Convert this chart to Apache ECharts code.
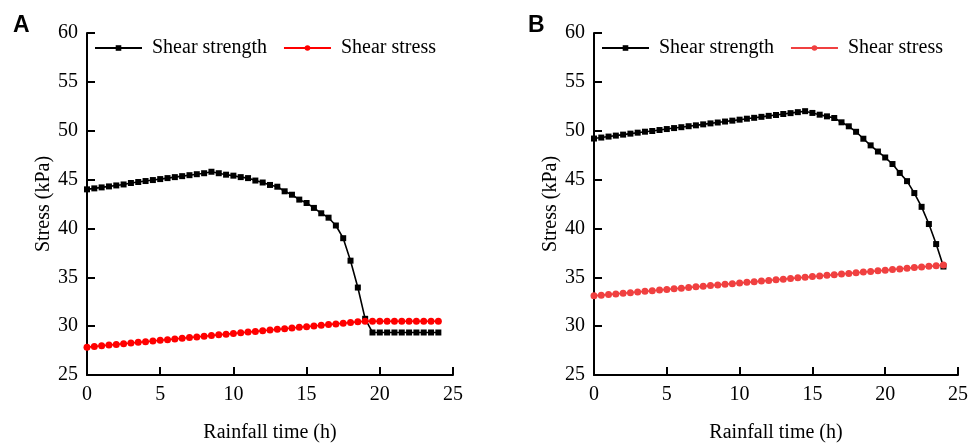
<!DOCTYPE html>
<html>
<head>
<meta charset="utf-8">
<script src="https://cdn.jsdelivr.net/npm/echarts@6/dist/echarts.min.js"></script>
<style>
  html, body { margin: 0; padding: 0; background: #fff; }
  #chart { width: 971px; height: 448px; }
</style>
</head>
<body>
<div id="chart"></div>
<script>
// rainfall time (h), 0.5 h steps
var hours = [0, 0.5, 1, 1.5, 2, 2.5, 3, 3.5, 4, 4.5, 5, 5.5, 6, 6.5, 7, 7.5, 8, 8.5, 9, 9.5,
  10, 10.5, 11, 11.5, 12, 12.5, 13, 13.5, 14, 14.5, 15, 15.5, 16, 16.5, 17, 17.5, 18, 18.5, 19, 19.5,
  20, 20.5, 21, 21.5, 22, 22.5, 23, 23.5, 24];

// panel A
var strengthA = [44.0, 44.1, 44.2, 44.3, 44.4, 44.5, 44.65, 44.75, 44.85, 44.95,
  45.05, 45.15, 45.25, 45.35, 45.45, 45.55, 45.65, 45.8, 45.65, 45.5,
  45.4, 45.25, 45.15, 44.9, 44.7, 44.45, 44.27, 43.8, 43.45, 42.95,
  42.6, 42.1, 41.55, 41.1, 40.3, 39.0, 36.7, 33.95, 30.75, 29.35,
  29.35, 29.35, 29.35, 29.35, 29.35, 29.35, 29.35, 29.35, 29.35];
var stressA = [27.85, 27.92, 27.99, 28.06, 28.13, 28.2, 28.27, 28.34, 28.41, 28.48,
  28.55, 28.62, 28.69, 28.76, 28.83, 28.9, 28.97, 29.04, 29.11, 29.18,
  29.25, 29.32, 29.39, 29.46, 29.53, 29.6, 29.67, 29.74, 29.81, 29.88,
  29.95, 30.02, 30.09, 30.16, 30.23, 30.3, 30.37, 30.44, 30.5, 30.5,
  30.5, 30.5, 30.5, 30.5, 30.5, 30.5, 30.5, 30.5, 30.5];

// panel B
var strengthB = [49.2, 49.3, 49.4, 49.5, 49.6, 49.7, 49.8, 49.9, 49.97, 50.07,
  50.17, 50.27, 50.36, 50.46, 50.55, 50.65, 50.75, 50.84, 50.94, 51.03,
  51.13, 51.23, 51.32, 51.42, 51.52, 51.61, 51.71, 51.8, 51.9, 52.0,
  51.82, 51.64, 51.47, 51.3, 50.86, 50.45, 49.89, 49.18, 48.5, 47.87,
  47.26, 46.59, 45.68, 44.84, 43.62, 42.21, 40.45, 38.4, 36.1];
var stressB = [33.1, 33.17, 33.23, 33.3, 33.36, 33.43, 33.49, 33.56, 33.62, 33.69,
  33.76, 33.82, 33.89, 33.95, 34.02, 34.08, 34.15, 34.22, 34.28, 34.35,
  34.41, 34.48, 34.54, 34.61, 34.67, 34.74, 34.81, 34.87, 34.94, 35.0,
  35.07, 35.13, 35.2, 35.26, 35.33, 35.4, 35.46, 35.53, 35.59, 35.66,
  35.72, 35.79, 35.86, 35.92, 35.99, 36.05, 36.12, 36.18, 36.25];

var xTicks = [0, 5, 10, 15, 20, 25];
var yTicks = [25, 30, 35, 40, 45, 50, 55, 60];

var serif = '"Liberation Serif", "Times New Roman", serif';

function pairs(vals) {
  return hours.map(function (h, i) { return [h, vals[i]]; });
}

function xAxis(idx) {
  return {
    type: 'value', gridIndex: idx,
    min: xTicks[0], max: xTicks[xTicks.length - 1], interval: 5,
    name: 'Rainfall time (h)', nameLocation: 'middle', nameGap: 48,
    nameTextStyle: { fontFamily: serif, fontSize: 20, color: '#000' },
    axisLine: { lineStyle: { color: '#000', width: 2 } },
    axisTick: { inside: true, length: 8, lineStyle: { color: '#000', width: 2 } },
    axisLabel: { fontFamily: serif, fontSize: 20, color: '#000', margin: 10 },
    splitLine: { show: false }
  };
}

function yAxis(idx) {
  return {
    type: 'value', gridIndex: idx,
    min: yTicks[0], max: yTicks[yTicks.length - 1], interval: 5,
    name: 'Stress (kPa)', nameLocation: 'middle', nameGap: 31,
    nameTextStyle: { fontFamily: serif, fontSize: 20, color: '#000' },
    axisLine: { show: true, lineStyle: { color: '#000', width: 2 } },
    axisTick: { show: true, inside: true, length: 8, lineStyle: { color: '#000', width: 2 } },
    axisLabel: { fontFamily: serif, fontSize: 20, color: '#000', margin: 9 },
    splitLine: { show: false }
  };
}

function legend(left, idx) {
  return {
    left: left, top: 38, padding: 0, itemWidth: 47, itemHeight: 7, itemGap: 16,
    data: [
      { name: 'Shear strength ' + idx },
      { name: 'Shear stress ' + idx }
    ],
    formatter: function (n) { return n.slice(0, -2); },
    textStyle: { fontFamily: serif, fontSize: 20, color: '#000', padding: [0, 0, 0, 5] }
  };
}

function line(name, idx, vals, color, symbol, size) {
  return {
    name: name, type: 'line', xAxisIndex: idx, yAxisIndex: idx,
    data: pairs(vals), symbol: symbol, symbolSize: size,
    lineStyle: { color: color, width: 1.6 },
    itemStyle: { color: color },
    animation: false
  };
}

var panelFont = { fontFamily: '"Liberation Sans", Arial, sans-serif', fontSize: 23, fontWeight: 'bold', color: '#000' };

var chart = echarts.init(document.getElementById('chart'));
chart.setOption({
  backgroundColor: '#fff',
  title: [
    { text: 'A', left: 13, top: 14, padding: 0, textStyle: panelFont },
    { text: 'B', left: 528, top: 14, padding: 0, textStyle: panelFont }
  ],
  legend: [legend(94, 'A'), legend(601, 'B')],
  grid: [
    { left: 87, right: 518, top: 33, bottom: 69 },
    { left: 594, right: 10, top: 33, bottom: 69 }
  ],
  xAxis: [xAxis(0), xAxis(1)],
  yAxis: [yAxis(0), yAxis(1)],
  series: [
    line('Shear strength A', 0, strengthA, '#000', 'rect', 6),
    line('Shear stress A', 0, stressA, '#ff0000', 'circle', 7),
    line('Shear strength B', 1, strengthB, '#000', 'rect', 6),
    line('Shear stress B', 1, stressB, '#f04040', 'circle', 7)
  ]
});
</script>
</body>
</html>
